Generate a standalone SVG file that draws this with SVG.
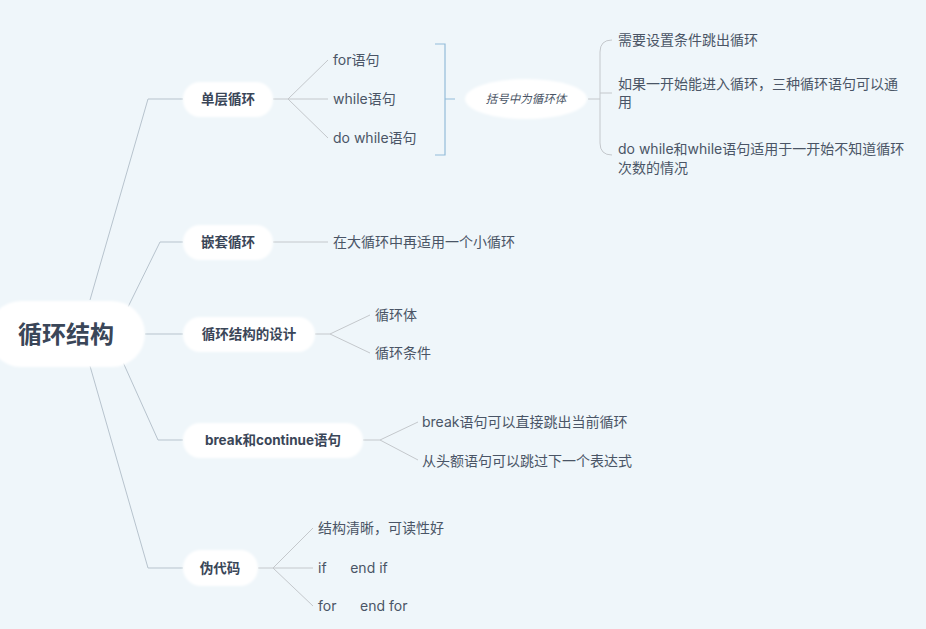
<svg xmlns="http://www.w3.org/2000/svg" width="926" height="629" viewBox="0 0 926 629">
<defs>
<filter id="soft" x="-20%" y="-30%" width="140%" height="160%"><feGaussianBlur stdDeviation="1.2"/></filter>
</defs>
<style>
.node{fill:#ffffff;filter:url(#soft)}
.t0{font-family:"Open Sans","Noto Sans CJK SC",sans-serif;font-weight:bold;font-size:24px;fill:#3a4658}
.t1{font-family:Inter,"Noto Sans CJK SC",sans-serif;font-weight:bold;font-size:13.5px;fill:#3a4658}
.t2{font-family:Inter,"Noto Sans CJK SC",sans-serif;font-size:14px;fill:#4a5566}
.ti{font-family:"Open Sans","Noto Sans CJK SC",sans-serif;font-style:italic;font-size:11.5px;fill:#4a5566}
.l0{fill:none;stroke:#b7c3cd;stroke-width:1}
.l1{fill:none;stroke:#c4c8cc;stroke-width:1}
.br{fill:none;stroke:#93bcd9;stroke-width:1.2}
</style>
<rect width="926" height="629" fill="#eff6fa"/>
<g id="connectors">
<polyline class="l0" points="90,300 148,99 183,99"/>
<polyline class="l0" points="128,307 160,242 183,242"/>
<polyline class="l0" points="145,334 183,334"/>
<polyline class="l0" points="122,360 158,440 183,440"/>
<polyline class="l0" points="90,366 148,568 183,568"/>
<path class="l1" d="M273,99 H288 L328,60 M288,99 H328 M288,99 L328,138"/>
<path class="br" d="M435,44 H445 V155 H435 M445,99 H455"/>
<path class="l1" d="M588,99 H600"/>
<path class="l1" d="M612,40 Q600,40 600,52 V143 Q600,155 612,155 M600,93 H612"/>
<path class="l1" d="M273,242 H328"/>
<path class="l1" d="M315,334 H330 L370,315 M330,334 L370,353"/>
<path class="l1" d="M363,440 H380 L418,422 M380,440 L418,460"/>
<path class="l1" d="M258,568 H273 L313,528 M273,568 H313 M273,568 L313,606"/>
</g>
<g id="root">
<rect class="node" x="-12" y="301" width="157" height="66" rx="33"/>
<text class="t0" x="66" y="343" text-anchor="middle">循环结构</text>
</g>
<g id="n1">
<rect class="node" x="183" y="82" width="90" height="35" rx="17"/>
<text class="t1" x="228" y="104" text-anchor="middle">单层循环</text>
</g>
<g id="n1a"><text class="t2" x="333" y="65">for语句</text></g>
<g id="n1b"><text class="t2" x="333" y="104">while语句</text></g>
<g id="n1c"><text class="t2" x="333" y="143">do while语句</text></g>
<g id="n1s">
<ellipse class="node" cx="526" cy="99" rx="61" ry="20"/>
<text class="ti" x="526" y="103" text-anchor="middle">括号中为循环体</text>
</g>
<g id="n1s1"><text class="t2" x="618" y="45">需要设置条件跳出循环</text></g>
<g id="n1s2"><text class="t2" x="618" y="89">如果一开始能进入循环，三种循环语句可以通<tspan x="618" dy="18">用</tspan></text></g>
<g id="n1s3"><text class="t2" x="618" y="154">do while和while语句适用于一开始不知道循环<tspan x="618" dy="19">次数的情况</tspan></text></g>
<g id="n2">
<rect class="node" x="183" y="225" width="90" height="35" rx="17"/>
<text class="t1" x="228" y="247" text-anchor="middle">嵌套循环</text>
</g>
<g id="n2a"><text class="t2" x="333" y="247">在大循环中再适用一个小循环</text></g>
<g id="n3">
<rect class="node" x="183" y="317" width="132" height="35" rx="17"/>
<text class="t1" x="249" y="339" text-anchor="middle">循环结构的设计</text>
</g>
<g id="n3a"><text class="t2" x="375" y="320">循环体</text></g>
<g id="n3b"><text class="t2" x="375" y="358">循环条件</text></g>
<g id="n4">
<rect class="node" x="183" y="423" width="180" height="35" rx="17"/>
<text class="t1" x="273" y="445" text-anchor="middle">break和continue语句</text>
</g>
<g id="n4a"><text class="t2" x="422" y="427">break语句可以直接跳出当前循环</text></g>
<g id="n4b"><text class="t2" x="422" y="466">从头额语句可以跳过下一个表达式</text></g>
<g id="n5">
<rect class="node" x="183" y="550" width="75" height="36" rx="18"/>
<text class="t1" x="220" y="573" text-anchor="middle">伪代码</text>
</g>
<g id="n5a"><text class="t2" x="318" y="533">结构清晰，可读性好</text></g>
<g id="n5b"><text class="t2" x="318" y="573" xml:space="preserve">if      end if</text></g>
<g id="n5c"><text class="t2" x="318" y="611" xml:space="preserve">for      end for</text></g>
</svg>
